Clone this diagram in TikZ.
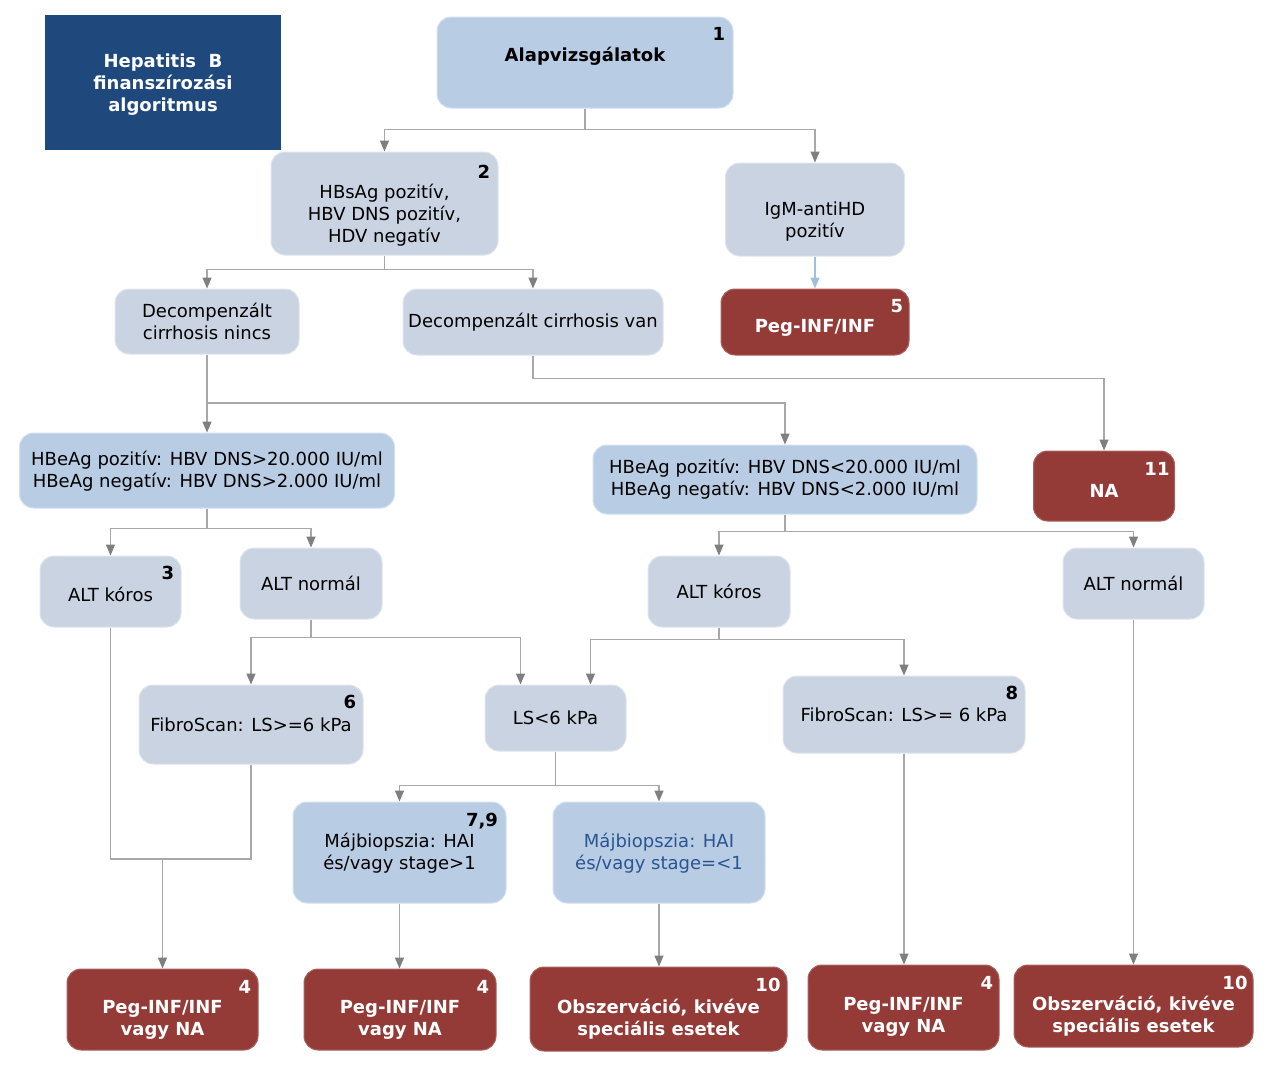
\documentclass[tikz,border=0pt]{standalone}
\usepackage{fontspec}
\setmainfont{DejaVu Sans}
\usetikzlibrary{arrows.meta}
\definecolor{titleblue}{HTML}{1F497D}
\definecolor{boxblue}{HTML}{B8CCE4}
\definecolor{boxgray}{HTML}{CAD3E1}
\definecolor{boxred}{HTML}{943B37}
\definecolor{linegray}{HTML}{A8A8A8}
\definecolor{tipgray}{HTML}{7F7F7F}
\definecolor{tipblue}{HTML}{9FC0DA}
\definecolor{darkbluetxt}{HTML}{2A5590}
% strut that pushes the first line of a box down
\newcommand{\dn}[1]{\rule{0pt}{#1pt}}
\tikzset{
  box/.style={rounded corners=14pt, align=center, inner sep=2pt,
    font=\fontsize{18}{22}\selectfont},
  bluebox/.style={box, fill=boxblue, draw=boxblue!60!white, line width=1pt},
  graybox/.style={box, fill=boxgray, draw=boxgray!60!white, line width=1pt},
  redbox/.style={box, fill=boxred, draw=boxred!80!white, line width=1pt, text=white,
    font=\fontsize{18}{22}\selectfont\bfseries},
  num/.style={font=\fontsize{18}{22}\selectfont\bfseries, inner sep=0pt},
  txtup/.style={execute at end node={\rule[-#1pt]{0pt}{#1pt}}},
  link/.style={draw=linegray, line width=1.3pt},
  arrow/.style={link, -{Triangle[width=9pt,length=11pt,color=tipgray]}},
}

\begin{document}
\begin{tikzpicture}[x=1pt,y=-1pt]
  \useasboundingbox (0,0) rectangle (1267,1066);

  %%%%% BOXES %%%%%
  \node[fill=titleblue, minimum width=236, minimum height=135, align=center, text=white,
    font=\fontsize{18}{22}\selectfont\bfseries] (title) at (163,82.5)
    {\dn{17}Hepatitis~~B\\finanszírozási\\algoritmus};

  \node[bluebox, minimum width=296, minimum height=91, txtup=17] (alap) at (585,62.5)
    {\bfseries Alapvizsgálatok};
  \node[num] at (719,34) {1};

  \node[graybox, minimum width=227, minimum height=103] (hbsag) at (384.5,203.5)
    {\dn{37}HBsAg pozitív,\\HBV DNS pozitív,\\HDV negatív};
  \node[num] at (484,172) {2};

  \node[graybox, minimum width=179, minimum height=93] (igm) at (815,209.5)
    {\dn{37}IgM-antiHD\\pozitív};

  \node[redbox, minimum width=188, minimum height=66] (peg5) at (815,322)
    {\dn{24}Peg-INF/INF};
  \node[num, text=white] at (897,306) {5};

  \node[graybox, minimum width=184, minimum height=65] (dcn) at (207,321.5)
    {Decompenzált\\cirrhosis nincs};
  \node[graybox, minimum width=260, minimum height=66] (dcv) at (533,322)
    {Decompenzált cirrhosis van};

  \node[bluebox, minimum width=375, minimum height=75] (hbel) at (207,470.5)
    {\dn{16}HBeAg pozitív: HBV DNS>20.000 IU/ml\\HBeAg negatív: HBV DNS>2.000 IU/ml};
  \node[bluebox, minimum width=384, minimum height=69] (hber) at (785,479.5)
    {HBeAg pozitív: HBV DNS<20.000 IU/ml\\HBeAg negatív: HBV DNS<2.000 IU/ml};

  \node[redbox, minimum width=141, minimum height=70] (na) at (1104,486)
    {\dn{22}NA};
  \node[num, text=white] at (1157,469) {11};

  \node[graybox, minimum width=141, minimum height=71] (altk1) at (110.5,591.5)
    {\dn{21}ALT kóros};
  \node[num] at (168,573) {3};
  \node[graybox, minimum width=142, minimum height=71] (altn1) at (311,583.5)
    {ALT normál};
  \node[graybox, minimum width=142, minimum height=71] (altk2) at (719,591.5)
    {ALT kóros};
  \node[graybox, minimum width=141, minimum height=71] (altn2) at (1133.5,583.5)
    {ALT normál};

  \node[graybox, minimum width=224, minimum height=79] (fs6) at (251,724.5)
    {FibroScan: LS>=6 kPa};
  \node[num] at (350,702) {6};
  \node[graybox, minimum width=141, minimum height=66] (ls6) at (555.5,718)
    {LS<6 kPa};
  \node[graybox, minimum width=242, minimum height=77] (fs8) at (904,714.5)
    {FibroScan: LS>= 6 kPa};
  \node[num] at (1012,693) {8};

  \node[bluebox, minimum width=213, minimum height=101] (mb1) at (399.5,852.5)
    {\dn{16}Májbiopszia: HAI\\és/vagy stage>1};
  \node[num] at (482,821) {7,9};
  \node[bluebox, minimum width=212, minimum height=101, text=darkbluetxt] (mb2) at (659,852.5)
    {\dn{16}Májbiopszia: HAI\\és/vagy stage=<1};

  \node[redbox, minimum width=191, minimum height=81] (p4a) at (162.5,1009.5)
    {\dn{34}Peg-INF/INF\\vagy NA};
  \node[num, text=white] at (245,987) {4};
  \node[redbox, minimum width=192, minimum height=81] (p4b) at (400,1009.5)
    {\dn{34}Peg-INF/INF\\vagy NA};
  \node[num, text=white] at (483,987) {4};
  \node[redbox, minimum width=257, minimum height=84] (obs1) at (658.5,1009)
    {\dn{34}Obszerváció, kivéve\\speciális esetek};
  \node[num, text=white] at (768,985) {10};
  \node[redbox, minimum width=191, minimum height=85] (p4c) at (903.5,1007.5)
    {\dn{32}Peg-INF/INF\\vagy NA};
  \node[num, text=white] at (987,983) {4};
  \node[redbox, minimum width=239, minimum height=82] (obs2) at (1133.5,1006)
    {\dn{34}Obszerváció, kivéve\\speciális esetek};
  \node[num, text=white] at (1235,983) {10};

  %%%%% CONNECTORS %%%%%
  \draw[link] (alap.south) -- ++(0,21) coordinate (jalap);
  \draw[arrow] (jalap) -| (hbsag.north);
  \draw[arrow] (jalap) -| (igm.north);

  \draw[draw=tipblue, line width=1.3pt, -{Triangle[width=9pt,length=11pt,color=tipblue]}]
    (igm.south) -- (igm.south |- peg5.north);

  \draw[link] (hbsag.south) -- ++(0,14) coordinate (jhbsag);
  \draw[arrow] (jhbsag) -| (dcn.north);
  \draw[arrow] (jhbsag) -| (dcv.north);

  \draw[arrow] (dcv.south) -- ++(0,23) -| (na.north);

  \draw[link] (dcn.south) -- ++(0,48.5) coordinate (jdcn);
  \draw[arrow] (jdcn) -| (hbel.north);
  \draw[arrow] (jdcn) -| (hber.north);

  \draw[link] (hbel.south) -- ++(0,20) coordinate (jhbel);
  \draw[arrow] (jhbel) -| (altk1.north);
  \draw[arrow] (jhbel) -| (altn1.north);

  \draw[link] (hber.south) -- ++(0,17) coordinate (jhber);
  \draw[arrow] (jhber) -| (altk2.north);
  \draw[arrow] (jhber) -| (altn2.north);

  \draw[link] (altn1.south) -- ++(0,18) coordinate (jaltn1);
  \draw[arrow] (jaltn1) -| (fs6.north);
  \draw[arrow] (jaltn1) -| ([xshift=-35pt]ls6.north);

  \draw[link] (altk2.south) -- ++(0,12) coordinate (jaltk2);
  \draw[arrow] (jaltk2) -| ([xshift=35pt]ls6.north);
  \draw[arrow] (jaltk2) -| (fs8.north);

  \draw[link] (ls6.south) -- ++(0,34) coordinate (jls6);
  \draw[arrow] (jls6) -| (mb1.north);
  \draw[arrow] (jls6) -| (mb2.north);

  \coordinate (jmerge) at (162.5,859);
  \draw[link] (altk1.south) |- (jmerge);
  \draw[link] (fs6.south) |- (jmerge);
  \draw[arrow] (jmerge) -- (p4a.north);

  \draw[arrow] (mb1.south) -- (mb1.south |- p4b.north);
  \draw[arrow] (mb2.south) -- (mb2.south |- obs1.north);
  \draw[arrow] (fs8.south) -- (fs8.south |- p4c.north);
  \draw[arrow] (altn2.south) -- (altn2.south |- obs2.north);
\end{tikzpicture}
\end{document}
